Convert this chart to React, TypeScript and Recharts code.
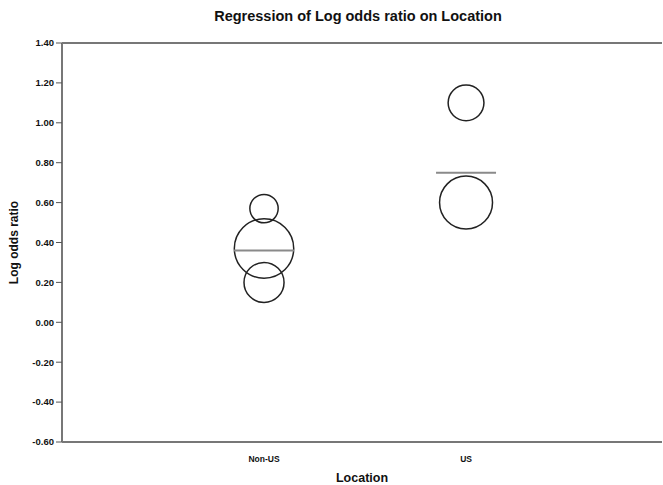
import React from "react";
import {
  ScatterChart,
  Scatter,
  XAxis,
  YAxis,
  ZAxis,
  ReferenceLine,
  Label,
} from "recharts";

// study-level log odds ratios and weights
const locations = ["Non-US", "US"];
const nonUsLogOr = [0.57, 0.37, 0.2];
const nonUsWeight = [1.0, 4.4, 2.0];
const usLogOr = [1.1, 0.6];
const usWeight = [1.6, 3.5];

// fitted (weighted mean) values per location
const fittedLogOr = [0.36, 0.75];

const yTicks = [-0.6, -0.4, -0.2, 0, 0.2, 0.4, 0.6, 0.8, 1.0, 1.2, 1.4];

const studies = [
  ...nonUsLogOr.map((y, i) => ({ x: 1, y, z: nonUsWeight[i] })),
  ...usLogOr.map((y, i) => ({ x: 2, y, z: usWeight[i] })),
];

const fitted = fittedLogOr.map((y, i) => ({ x: i + 1, y }));

const FONT = "'Liberation Sans', Arial, sans-serif";

const MeanBar = (props: any) => {
  const { cx, cy } = props;
  return (
    <line
      x1={cx - 30}
      x2={cx + 30}
      y1={cy}
      y2={cy}
      stroke="#8a8a8a"
      strokeWidth={2}
    />
  );
};

export default function App() {
  return (
    <div style={{ position: "absolute", left: 0, top: 0, background: "#fff" }}>
      <ScatterChart
        width={663}
        height={485}
        margin={{ top: 43, right: 1, bottom: 0, left: 0 }}
        style={{ fontFamily: FONT }}
      >
        <text
          x={358}
          y={21}
          textAnchor="middle"
          fontFamily={FONT}
          fontWeight="bold"
          fontSize={14.5}
          fill="#111"
        >
          Regression of Log odds ratio on Location
        </text>

        <XAxis
          type="number"
          dataKey="x"
          domain={[0, 2.97]}
          ticks={[1, 2]}
          tickFormatter={(v: number) => locations[v - 1] ?? ""}
          tickLine={false}
          axisLine={{ stroke: "#777", strokeWidth: 2 }}
          tick={{ fontSize: 8.5, fontWeight: "bold", fill: "#111", fontFamily: FONT }}
          tickMargin={8}
          height={43}
          allowDataOverflow
        >
          <Label
            value="Location"
            position="insideBottom"
            offset={3}
            style={{ fontSize: 12.5, fontWeight: "bold", fill: "#111", fontFamily: FONT }}
          />
        </XAxis>

        <YAxis
          type="number"
          dataKey="y"
          domain={[-0.6, 1.4]}
          ticks={yTicks}
          interval={0}
          tickFormatter={(v: number) => v.toFixed(2)}
          tickSize={6}
          tickMargin={2}
          tickLine={{ stroke: "#555" }}
          axisLine={{ stroke: "#777", strokeWidth: 2 }}
          tick={{ fontSize: 9.5, fontWeight: "bold", fill: "#111", fontFamily: FONT }}
          width={62}
          allowDataOverflow
        >
          <Label
            value="Log odds ratio"
            angle={-90}
            position="insideLeft"
            offset={14}
            style={{
              fontSize: 12,
              fontWeight: "bold",
              fill: "#111",
              fontFamily: FONT,
              textAnchor: "middle",
            }}
          />
        </YAxis>

        <ZAxis type="number" dataKey="z" domain={[0, 4.4]} range={[0, 2771]} />

        <ReferenceLine y={1.4} stroke="#777" strokeWidth={2} ifOverflow="extendDomain" />

        <Scatter
          data={studies}
          fill="none"
          stroke="#222"
          strokeWidth={1.5}
          isAnimationActive={false}
        />
        <Scatter data={fitted} shape={MeanBar} isAnimationActive={false} />
      </ScatterChart>
    </div>
  );
}
